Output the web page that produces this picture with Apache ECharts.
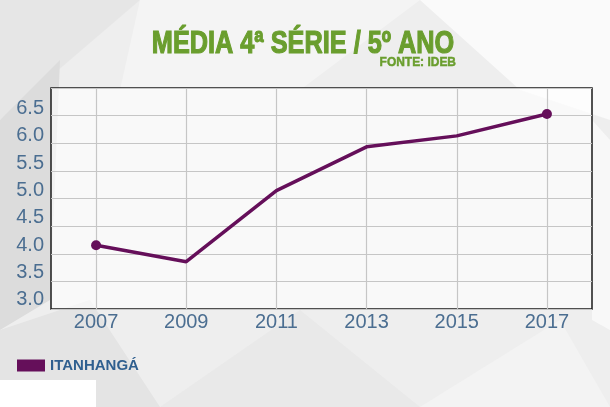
<!DOCTYPE html>
<html>
<head>
<meta charset="utf-8">
<script src="https://cdn.jsdelivr.net/npm/echarts@6/dist/echarts.min.js"></script>
<style>
html,body{margin:0;padding:0;background:#eeeeee;}
#c{width:610px;height:407px;}
</style>
</head>
<body>
<div id="c"></div>
<script>
// ---- data ----
const years = [2007, 2009, 2011, 2013, 2015, 2017];
const values = [4.0, 3.7, 5.0, 5.8, 6.0, 6.4];
const seriesName = 'ITANHANGÁ';
const titleText = 'MÉDIA 4ª SÉRIE / 5º ANO';
const sourceText = 'FONTE: IDEB';
const yTicks = [3.0, 3.5, 4.0, 4.5, 5.0, 5.5, 6.0, 6.5];

const chart = echarts.init(document.getElementById('c'), null, {renderer: 'canvas'});

const bgPolys = [
  {pts: [[0,0],[140,0],[0,120]], c: '#e6e6e6'},
  {pts: [[0,120],[60,60],[50,300],[0,330]], c: '#dcdcdc'},
  {pts: [[140,0],[420,0],[300,90],[120,90]], c: '#f4f4f4'},
  {pts: [[420,0],[610,0],[610,120],[520,90]], c: '#fafafa'},
  {pts: [[0,330],[90,300],[160,407],[0,407]], c: '#e4e4e4'},
  {pts: [[160,407],[300,310],[420,407]], c: '#e9e9e9'},
  {pts: [[420,407],[560,320],[610,407]], c: '#f3f3f3'},
  {pts: [[592,120],[610,140],[610,330],[592,320]], c: '#f8f8f8'},
  {pts: [[0,380],[96,380],[96,407],[0,407]], c: '#ffffff'}
];

const graphics = bgPolys.map(p => ({
  type: 'polygon', z: -10, silent: true,
  shape: {points: p.pts},
  style: {fill: p.c}
}));
graphics.push({
  type: 'text', x: 303, y: 44, scaleX: 0.79, scaleY: 1, z: 10,
  style: {text: titleText, x: 0, y: 0, textAlign: 'center', textVerticalAlign: 'middle',
    font: 'bold 32px "Liberation Sans", Arial, sans-serif', fill: '#6a9e2e',
    stroke: '#6a9e2e', lineWidth: 1.2}
});
graphics.push({
  type: 'text', x: 456, y: 62, scaleX: 0.92, z: 10,
  style: {text: sourceText, x: 0, y: 0, textAlign: 'right', textVerticalAlign: 'middle',
    font: 'bold 13px "Liberation Sans", sans-serif', fill: '#6a9e2e',
    stroke: '#6a9e2e', lineWidth: 0.5}
});

const labelFont = '"Liberation Sans Narrow", "Liberation Sans", sans-serif';

chart.setOption({
  backgroundColor: 'transparent',
  animation: false,
  graphic: graphics,
  legend: {
    data: [seriesName], left: 17, top: 358, padding: 0,
    icon: 'rect', itemWidth: 28, itemHeight: 12, itemGap: 5,
    textStyle: {fontFamily: labelFont, fontWeight: 'bold', fontSize: 15, color: '#2f5f8f'}
  },
  grid: {
    left: 51, right: 18, top: 88, bottom: 98, show: true,
    backgroundColor: 'rgba(255,255,255,0.62)', borderColor: '#1a1a1a', borderWidth: 1.5
  },
  xAxis: {
    type: 'value', min: 2006, max: 2018, interval: 1,
    axisLine: {show: false}, axisTick: {show: false},
    axisLabel: {
      margin: 3, fontSize: 20, fontFamily: labelFont, color: '#4b6e91',
      formatter: v => (years.indexOf(v) >= 0 ? String(v) : '')
    },
    splitLine: {show: true, lineStyle: {color: ['rgba(0,0,0,0)', '#c6c6c6'], width: 1.2}}
  },
  yAxis: [
    {
      type: 'value', min: 2.835, max: 6.875, minInterval: 0.5, maxInterval: 0.5,
      axisLine: {show: false}, axisTick: {show: false}, splitLine: {show: false},
      axisLabel: {
        margin: 7, fontSize: 20, fontFamily: labelFont, color: '#4b6e91',
        formatter: v => {
          const t = yTicks.find(y => Math.abs(y - v) < 1e-6);
          return t === undefined ? '' : t.toFixed(1);
        }
      }
    },
    {
      type: 'value', min: 3, max: 7, interval: 0.5, position: 'left',
      axisLine: {show: false}, axisTick: {show: false}, axisLabel: {show: false},
      splitLine: {show: true, lineStyle: {color: '#c6c6c6', width: 1.2}}
    }
  ],
  series: [{
    name: seriesName, type: 'line', yAxisIndex: 0,
    data: years.map((y, i) => [y, values[i]]),
    symbol: (val, params) => (params.dataIndex === 0 || params.dataIndex === years.length - 1) ? 'circle' : 'none',
    symbolSize: 10, showSymbol: true,
    lineStyle: {color: '#650f5a', width: 3.5},
    itemStyle: {color: '#650f5a'}
  }]
});
</script>
</body>
</html>
